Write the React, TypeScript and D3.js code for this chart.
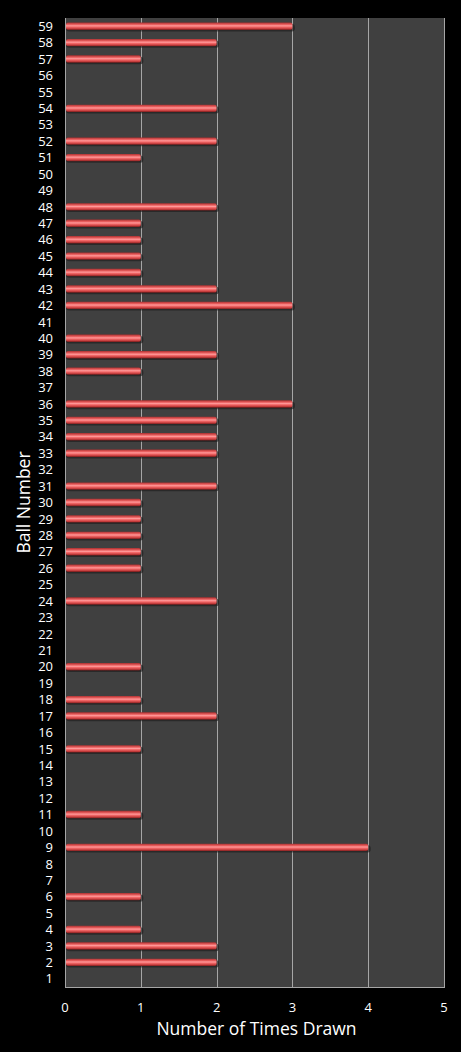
import React, { useEffect, useRef } from 'react';
import * as d3 from 'd3';

// ball numbers 1..59 and how often each was drawn
const balls: number[] = [
  1, 2, 3, 4, 5, 6, 7, 8, 9, 10, 11, 12, 13, 14, 15, 16, 17, 18, 19, 20,
  21, 22, 23, 24, 25, 26, 27, 28, 29, 30, 31, 32, 33, 34, 35, 36, 37, 38, 39, 40,
  41, 42, 43, 44, 45, 46, 47, 48, 49, 50, 51, 52, 53, 54, 55, 56, 57, 58, 59,
];
const timesDrawn: number[] = [
  0, 2, 2, 1, 0, 1, 0, 0, 4, 0, 1, 0, 0, 0, 1, 0, 2, 1, 0, 1,
  0, 0, 0, 2, 0, 1, 1, 1, 1, 1, 2, 0, 2, 2, 2, 3, 0, 1, 2, 1,
  0, 3, 2, 1, 1, 1, 1, 2, 0, 0, 1, 2, 0, 2, 0, 0, 1, 2, 3,
];
const xTicks: number[] = [0, 1, 2, 3, 4, 5];

const W = 461;
const H = 1052;
const FONT = '"Open Sans", "DejaVu Sans", sans-serif';

const App: React.FC = () => {
  const svgRef = useRef<SVGSVGElement>(null);

  useEffect(() => {
    if (!svgRef.current) return;
    const svg = d3.select(svgRef.current);
    svg.selectAll('*').remove();

    const left = 65, right = 444, top = 18, bottom = 987;

    const x = d3.scaleLinear().domain([0, 5]).range([left, right]);
    const y = d3.scaleBand<number>()
      .domain([...balls].reverse())
      .range([top, bottom])
      .paddingInner(0.55)
      .paddingOuter(0.275);

    const defs = svg.append('defs');
    const grad = defs.append('linearGradient')
      .attr('id', 'barGrad')
      .attr('x1', 0).attr('y1', 0).attr('x2', 0).attr('y2', 1);
    [
      ['0%', '#a83030'],
      ['25%', '#e65a5a'],
      ['45%', '#ff9a9a'],
      ['60%', '#f36868'],
      ['85%', '#c23a3a'],
      ['100%', '#6e1a1a'],
    ].forEach(([o, c]) => grad.append('stop').attr('offset', o).attr('stop-color', c));

    svg.append('rect').attr('width', W).attr('height', H).attr('fill', '#000');

    // plot area
    svg.append('rect')
      .attr('x', left).attr('y', top)
      .attr('width', right - left).attr('height', bottom - top)
      .attr('fill', '#404040');

    // gridlines
    svg.append('g').selectAll('line')
      .data(xTicks.filter(t => t > 0))
      .enter().append('line')
      .attr('x1', d => Math.round(x(d)) + 0.5).attr('x2', d => Math.round(x(d)) + 0.5)
      .attr('y1', top).attr('y2', bottom)
      .attr('stroke', '#a6a6a6').attr('stroke-width', 1);

    // axis lines
    svg.append('line')
      .attr('x1', left + 0.5).attr('x2', left + 0.5)
      .attr('y1', top).attr('y2', bottom + 1)
      .attr('stroke', '#a6a6a6');
    svg.append('line')
      .attr('x1', left).attr('x2', right + 1)
      .attr('y1', bottom + 0.5).attr('y2', bottom + 0.5)
      .attr('stroke', '#a6a6a6');

    // bars
    const data = balls.map((b, i) => ({ ball: b, value: timesDrawn[i] })).filter(d => d.value > 0);
    const bars = svg.append('g');
    bars.selectAll('rect.shadow')
      .data(data)
      .enter().append('rect')
      .attr('class', 'shadow')
      .attr('x', x(0) + 1)
      .attr('y', d => (y(d.ball) as number) + 1.5)
      .attr('width', d => x(d.value) - x(0) + 1.5)
      .attr('height', y.bandwidth())
      .attr('rx', 3)
      .attr('fill', '#1a1a1a')
      .attr('opacity', 0.6);
    bars.selectAll('rect.bar')
      .data(data)
      .enter().append('rect')
      .attr('class', 'bar')
      .attr('x', x(0) + 1)
      .attr('y', d => y(d.ball) as number)
      .attr('width', d => x(d.value) - x(0) - 1)
      .attr('height', y.bandwidth())
      .attr('rx', 2)
      .attr('fill', 'url(#barGrad)');

    // y tick labels
    svg.append('g').selectAll('text')
      .data(balls)
      .enter().append('text')
      .attr('x', 53)
      .attr('y', d => (y(d) as number) + y.bandwidth() / 2)
      .attr('dy', '0.36em')
      .attr('text-anchor', 'end')
      .attr('fill', '#fff')
      .style('font-family', FONT)
      .style('font-size', '13px')
      .text(d => d);

    // x tick labels
    svg.append('g').selectAll('text')
      .data(xTicks)
      .enter().append('text')
      .attr('x', d => x(d))
      .attr('y', 1012)
      .attr('text-anchor', 'middle')
      .attr('fill', '#fff')
      .style('font-family', FONT)
      .style('font-size', '13px')
      .text(d => d);

    // axis titles
    svg.append('text')
      .attr('x', (left + right) / 2 + 2)
      .attr('y', 1035)
      .attr('text-anchor', 'middle')
      .attr('fill', '#fff')
      .style('font-family', FONT)
      .style('font-size', '17.5px')
      .text('Number of Times Drawn');

    svg.append('text')
      .attr('transform', `translate(30, ${(top + bottom) / 2}) rotate(-90)`)
      .attr('text-anchor', 'middle')
      .attr('fill', '#fff')
      .style('font-family', FONT)
      .style('font-size', '17.5px')
      .text('Ball Number');
  }, []);

  return (
    <div style={{ position: 'absolute', left: 0, top: 0, background: '#000' }}>
      <svg ref={svgRef} width={W} height={H} style={{ display: 'block' }} />
    </div>
  );
};

export default App;
